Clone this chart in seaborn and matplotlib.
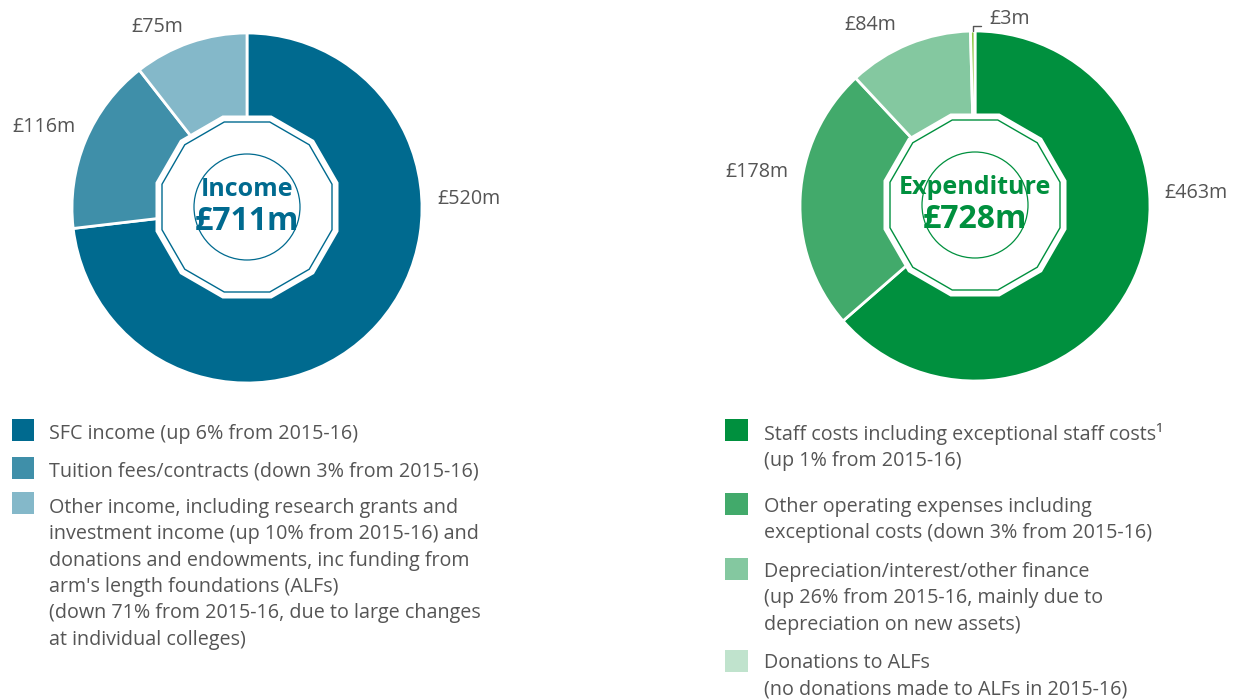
import numpy as np
import pandas as pd
import matplotlib
matplotlib.use("Agg")
import matplotlib.pyplot as plt
from matplotlib.patches import RegularPolygon, Circle
import seaborn as sns

# Income
income_values = [520, 116, 75]
income_labels = ["£520m", "£116m", "£75m"]
income_total = "£711m"
income_colors = ["#006a8f", "#3f8fa9", "#84b8c9"]
income_legend = [
    "SFC income (up 6% from 2015-16)",
    "Tuition fees/contracts (down 3% from 2015-16)",
    "Other income, including research grants and\n"
    "investment income (up 10% from 2015-16) and\n"
    "donations and endowments, inc funding from\n"
    "arm's length foundations (ALFs)\n"
    "(down 71% from 2015-16, due to large changes\n"
    "at individual colleges)",
]

# Expenditure
expend_values = [463, 178, 84, 3]
expend_labels = ["£463m", "£178m", "£84m", "£3m"]
expend_total = "£728m"
expend_colors = ["#00903e", "#42aa6b", "#84c8a0", "#8cc63f"]
expend_legend_colors = ["#00903e", "#42aa6b", "#84c8a0", "#c0e3cd"]
expend_legend = [
    "Staff costs including exceptional staff costs¹\n(up 1% from 2015-16)",
    "Other operating expenses including\nexceptional costs (down 3% from 2015-16)",
    "Depreciation/interest/other finance\n(up 26% from 2015-16, mainly due to\ndepreciation on new assets)",
    "Donations to ALFs\n(no donations made to ALFs in 2015-16)",
]

W, H = 1235, 700
R = 175
TEXT = "#555555"
FS = 14.2

sns.set_theme(style="white")
plt.rcParams["font.family"] = ["Open Sans", "DejaVu Sans"]

fig = plt.figure(figsize=(W / 100, H / 100), dpi=100)
ax = fig.add_axes([0, 0, 1, 1])


def donut(cx, cy, values, colors, accent, title, total, labels, label_xy):
    # cy is measured from the top of the picture
    y0 = H - cy
    ax.pie(values, colors=colors, startangle=90, counterclock=False,
           center=(cx, y0), radius=R,
           wedgeprops=dict(edgecolor="white", linewidth=2))
    apothem = 91.5
    ax.add_patch(RegularPolygon((cx, y0 + 1), 12, radius=apothem / np.cos(np.pi / 12),
                                orientation=np.pi / 12, facecolor="white",
                                edgecolor="none", zorder=3))
    ax.add_patch(RegularPolygon((cx, y0 + 1), 12, radius=(apothem - 6.5) / np.cos(np.pi / 12),
                                orientation=np.pi / 12, facecolor="none",
                                edgecolor=accent, linewidth=1, zorder=4))
    ax.add_patch(Circle((cx, y0 + 1), 53, facecolor="none", edgecolor=accent,
                        linewidth=0.9, zorder=4))
    ax.text(cx, y0 + 18, title, ha="center", va="center", fontsize=18,
            fontweight="bold", color=accent, zorder=5)
    ax.text(cx, y0 - 14, total, ha="center", va="center", fontsize=23,
            fontweight="bold", color=accent, zorder=5)
    for lab, (lx, ly) in zip(labels, label_xy):
        ax.text(lx, H - ly, lab, ha="center", va="center", fontsize=FS,
                color=TEXT)


donut(247, 208, income_values, income_colors, "#006a8f", "Income",
      income_total, income_labels, [(469, 199), (44, 127), (157, 27)])
donut(975, 206, expend_values, expend_colors, "#00903e", "Expenditure",
      expend_total, expend_labels[:3] + [""], [(1196, 193), (757, 172), (870, 25), (0, 0)])

# £3m leader line from the thin slice
mid = np.deg2rad(90 - 360 * (sum(expend_values[:3]) + expend_values[3] / 2) / sum(expend_values))
px, py = 975 + R * np.cos(mid), (H - 206) + R * np.sin(mid)
ax.plot([px, px, px + 8], [py, H - 26, H - 26], color="#555555", linewidth=1)
ax.text(989, H - 19, expend_labels[3], ha="left", va="center", fontsize=FS, color=TEXT)

# legend squares
inc_y = [430, 468, 503]
exp_y = [430, 504, 569, 661]
sq = pd.DataFrame({
    "x": [23] * 3 + [736.5] * 4,
    "y": [H - v for v in inc_y + exp_y],
    "item": [f"i{k}" for k in range(3)] + [f"e{k}" for k in range(4)],
})
pal = {f"i{k}": c for k, c in enumerate(income_colors)}
pal.update({f"e{k}": c for k, c in enumerate(expend_legend_colors)})
sns.scatterplot(data=sq, x="x", y="y", hue="item", palette=pal, marker="s",
                s=265, linewidth=0, legend=False, ax=ax)

inc_text_y = [434, 471, 508]
exp_text_y = [433, 507, 572, 663]
for t, y in zip(income_legend, inc_text_y):
    ax.text(49, H - y + 10, t, ha="left", va="top", fontsize=FS, color=TEXT,
            linespacing=1.42)
for t, y in zip(expend_legend, exp_text_y):
    ax.text(764, H - y + 10, t, ha="left", va="top", fontsize=FS, color=TEXT,
            linespacing=1.42)

ax.set_xlim(0, W)
ax.set_ylim(0, H)
ax.set_aspect("auto")
ax.axis("off")
fig.savefig("out.png", dpi=100, facecolor="white")
